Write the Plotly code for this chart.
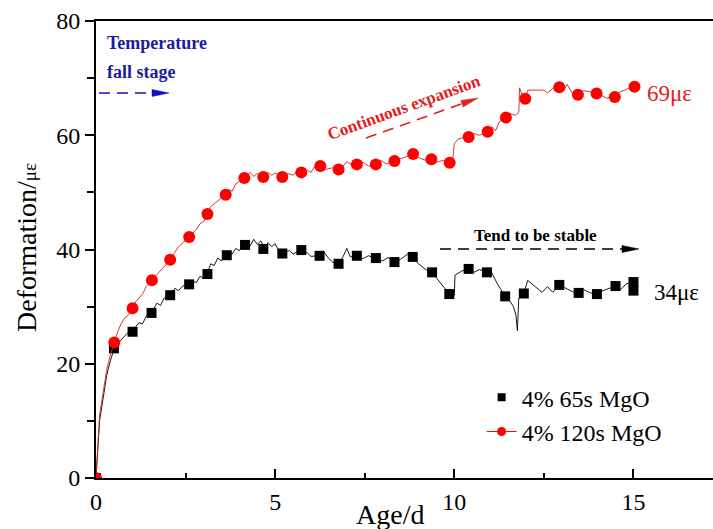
import plotly.graph_objects as go
import math

# ---------------- data ----------------
# 4% 65s MgO : measured curve
b_line_x = [0, 0.05, 0.1, 0.2, 0.3, 0.4, 0.5, 0.6, 0.7, 0.8, 0.9, 1.0, 1.1, 1.2, 1.3, 1.4, 1.5,
            1.6, 1.7, 1.8, 1.9, 2.0, 2.1, 2.2, 2.3, 2.4, 2.5, 2.6, 2.7, 2.8, 2.9, 3.0, 3.1, 3.2,
            3.3, 3.4, 3.5, 3.6, 3.7, 3.8, 3.9, 4.0, 4.1, 4.2, 4.3, 4.4, 4.5, 4.6, 4.7, 4.8, 4.9,
            5.0, 5.1, 5.2, 5.4, 5.5, 5.7, 5.9, 6.0, 6.2, 6.35, 6.5, 6.6, 6.77, 6.9, 7.0, 7.1,
            7.28, 7.45, 7.6, 7.81, 8.0, 8.15, 8.33, 8.5, 8.7, 8.84, 9.0, 9.2, 9.38, 9.5, 9.7,
            9.86, 9.95, 10.0, 10.02, 10.2, 10.4, 10.55, 10.7, 10.91, 11.0, 11.1, 11.2, 11.3,
            11.42, 11.55, 11.65, 11.72, 11.76, 11.8, 11.94, 12.05, 12.45, 12.6, 12.75, 12.93,
            13.1, 13.3, 13.47, 13.6, 13.8, 13.98, 14.15, 14.3, 14.5, 14.65, 14.8, 15.0]
b_line_y = [0, 6, 10, 14, 18, 20.5, 22.5, 23.5, 24.2, 24.8, 25.5, 25.6, 26.5, 27.2, 27.0, 28.3, 28.9,
            29.5, 30.6, 30.2, 31.5, 31.8, 32.2, 33.2, 32.8, 33.5, 33.9, 33.9, 34.5, 34.2, 35.3, 35.0,
            35.7, 37.5, 37.2, 38.5, 38.0, 39.0, 39.5, 39.2, 40.2, 39.8, 40.8, 41.5, 40.6, 41.8, 40.9,
            41.5, 40.1, 41.2, 40.5, 41.0, 39.8, 39.3, 39.8, 39.2, 39.9, 39.4, 38.8, 38.9, 39.6, 38.4,
            37.8, 37.5, 38.8, 40.2, 38.7, 38.9, 38.4, 38.9, 38.5, 38.0, 38.6, 37.8, 38.3, 39.2, 38.7,
            37.5, 36.5, 36.0, 35.0, 33.5, 32.2, 32.8, 32.0, 35.5, 36.2, 36.6, 36.0, 36.5, 36.0, 36.5,
            35.2, 34.0, 33.0, 31.8, 31.0, 30.0, 28.5, 25.8, 31.5, 32.3, 34.6, 32.5, 33.5, 32.5, 33.8,
            33.2, 32.6, 32.4, 33.0, 32.4, 32.2, 32.8, 33.2, 33.6, 33.0, 34.0, 34.3]
# 4% 65s MgO : symbols
b_mark_x = [0, 0.5, 1.02, 1.55, 2.07, 2.6, 3.11, 3.65, 4.16, 4.67, 5.2, 5.73, 6.24, 6.77, 7.28, 7.81,
            8.33, 8.84, 9.38, 9.86, 10.4, 10.91, 11.42, 11.94, 12.93, 13.47, 13.98, 14.5, 15.0, 15.0]
b_mark_y = [0, 22.7, 25.6, 28.9, 32.0, 33.9, 35.7, 39.0, 40.8, 40.1, 39.3, 39.9, 38.9, 37.5, 38.9,
            38.5, 37.8, 38.7, 36.0, 32.2, 36.6, 36.0, 31.8, 32.3, 33.8, 32.4, 32.2, 33.6, 34.3, 32.8]

# 4% 120s MgO : measured curve
r_line_x = [0, 0.05, 0.1, 0.2, 0.3, 0.4, 0.5, 0.6, 0.7, 0.8, 0.9, 1.02, 1.1, 1.2, 1.3, 1.4, 1.56,
            1.7, 1.8, 1.9, 2.07, 2.2, 2.3, 2.4, 2.6, 2.7, 2.8, 2.9, 3.0, 3.11, 3.2, 3.3, 3.45, 3.62,
            3.7, 3.8, 3.9, 4.0, 4.14, 4.3, 4.4, 4.5, 4.67, 4.8, 4.9, 5.0, 5.2, 5.35, 5.5, 5.6, 5.73,
            5.9, 6.0, 6.1, 6.26, 6.4, 6.6, 6.77, 6.9, 7.0, 7.15, 7.28, 7.45, 7.6, 7.81, 7.95, 8.1,
            8.33, 8.5, 8.65, 8.85, 9.0, 9.2, 9.36, 9.5, 9.7, 9.87, 9.95, 10.0, 10.1, 10.25, 10.4,
            10.55, 10.7, 10.93, 11.05, 11.15, 11.25, 11.44, 11.55, 11.7, 11.8, 11.82, 11.9, 11.98,
            12.05, 12.5, 12.6, 12.75, 12.93, 13.05, 13.15, 13.3, 13.45, 13.6, 13.8, 13.97, 14.1,
            14.25, 14.48, 14.6, 14.75, 14.9, 15.03]
r_line_y = [0, 6, 11, 15, 19, 21.5, 23.7, 25.5, 27.0, 28.0, 28.5, 29.7, 30.8, 31.5, 32.2, 33.5, 34.6,
            35.5, 36.2, 37.0, 38.2, 39.5, 40.5, 41.0, 42.2, 42.8, 43.5, 44.5, 44.9, 46.2, 47.5, 48.0,
            48.8, 49.6, 50.5, 50.2, 51.5, 51.9, 52.5, 53.5, 52.8, 53.3, 52.7, 53.5, 53.0, 53.4, 52.7,
            53.3, 53.0, 53.7, 53.5, 53.9, 53.5, 54.5, 54.6, 54.0, 54.3, 54.0, 54.6, 55.4, 54.8, 54.9,
            55.3, 54.6, 54.9, 55.6, 55.0, 55.5, 55.9, 56.3, 56.7, 56.1, 55.6, 55.8, 55.3, 55.6, 55.2,
            55.5, 58.5, 59.3, 59.6, 59.7, 60.3, 60.0, 60.6, 61.5, 60.8, 62.3, 63.1, 63.8, 63.5, 64.0,
            68.3, 67.0, 66.4, 67.9, 67.9, 67.4, 68.2, 68.4, 67.8, 68.9, 67.3, 67.1, 67.8, 67.6, 67.3,
            67.0, 66.5, 66.7, 67.5, 67.9, 68.3, 68.5]
# 4% 120s MgO : symbols
r_mark_x = [0, 0.51, 1.02, 1.56, 2.07, 2.6, 3.11, 3.62, 4.14, 4.67, 5.2, 5.73, 6.26, 6.77, 7.28, 7.81,
            8.33, 8.85, 9.36, 9.87, 10.4, 10.93, 11.44, 11.98, 12.93, 13.45, 13.97, 14.48, 15.03]
r_mark_y = [0, 23.7, 29.7, 34.6, 38.2, 42.2, 46.2, 49.6, 52.5, 52.7, 52.7, 53.5, 54.6, 54.0, 54.9,
            54.9, 55.5, 56.7, 55.8, 55.2, 59.7, 60.6, 63.1, 66.4, 68.4, 67.1, 67.3, 66.7, 68.5]

series_names = ["4% 65s MgO", "4% 120s MgO"]
x_ticks = [0, 5, 10, 15]
y_ticks = [0, 20, 40, 60, 80]

# ---------------- figure ----------------
W, H = 713, 529
ML, MR, MT, MB = 96, 0, 21, 51
X_MAX = 17.22
Y_MAX = 80
FONT = "Liberation Serif"


def px2x(px):
    return (px - ML) / (W - ML - MR) * X_MAX


def py2y(py):
    return (H - MB - py) / (H - MB - MT) * Y_MAX


fig = go.Figure()
fig.add_trace(go.Scatter(x=b_line_x, y=b_line_y, mode="lines",
                         line=dict(color="black", width=0.9), showlegend=False, hoverinfo="skip"))
fig.add_trace(go.Scatter(x=b_mark_x, y=b_mark_y, mode="markers",
                         marker=dict(symbol="square", size=10, color="black"), showlegend=False))
fig.add_trace(go.Scatter(x=r_line_x, y=r_line_y, mode="lines",
                         line=dict(color="#d42020", width=0.9), showlegend=False, hoverinfo="skip"))
fig.add_trace(go.Scatter(x=r_mark_x, y=r_mark_y, mode="markers",
                         marker=dict(symbol="circle", size=12, color="#ff0000"), showlegend=False))
# legend entries
fig.add_trace(go.Scatter(x=[None], y=[None], mode="markers", name=series_names[0],
                         marker=dict(symbol="square", size=8, color="black")))
fig.add_trace(go.Scatter(x=[None], y=[None], mode="lines+markers", name=series_names[1],
                         line=dict(color="#ff0000", width=1),
                         marker=dict(symbol="circle", size=9, color="#ff0000")))

shapes = []
annotations = []


def dashed_arrow(x0p, y0p, x1p, y1p, color, head_len=17, head_half=3.5):
    dx, dy = x1p - x0p, y1p - y0p
    L = math.hypot(dx, dy)
    ux, uy = dx / L, dy / L
    bx, by = x1p - ux * head_len, y1p - uy * head_len
    shapes.append(dict(type="line", xref="x", yref="y",
                       x0=px2x(x0p), y0=py2y(y0p), x1=px2x(bx), y1=py2y(by),
                       line=dict(color=color, width=1.6, dash="11px,7px")))
    nx, ny = -uy, ux
    p2 = (bx + nx * head_half, by + ny * head_half)
    p3 = (bx - nx * head_half, by - ny * head_half)
    path = "M {},{} L {},{} L {},{} Z".format(px2x(x1p), py2y(y1p), px2x(p2[0]), py2y(p2[1]),
                                               px2x(p3[0]), py2y(p3[1]))
    shapes.append(dict(type="path", xref="x", yref="y", path=path,
                       fillcolor=color, line=dict(color=color, width=0.5)))


dashed_arrow(99, 93, 169, 93, "#1010c8")
dashed_arrow(366, 138, 478, 98, "#e02020")
dashed_arrow(440, 249, 639, 249, "black")

annotations.append(dict(x=px2x(105), y=py2y(43), xref="x", yref="y", text="<b>Temperature</b>",
                        showarrow=False, xanchor="left", yanchor="middle",
                        font=dict(family=FONT, size=18, color="#1c1c9a")))
annotations.append(dict(x=px2x(105), y=py2y(72), xref="x", yref="y", text="<b>fall stage</b>",
                        showarrow=False, xanchor="left", yanchor="middle",
                        font=dict(family=FONT, size=18, color="#1c1c9a")))
annotations.append(dict(x=px2x(404), y=py2y(107), xref="x", yref="y",
                        text="<b>Continuous expansion</b>", textangle=-20,
                        showarrow=False, xanchor="center", yanchor="middle",
                        font=dict(family=FONT, size=17, color="#e02020")))
annotations.append(dict(x=px2x(535), y=py2y(235), xref="x", yref="y", text="<b>Tend to be stable</b>",
                        showarrow=False, xanchor="center", yanchor="middle",
                        font=dict(family=FONT, size=17, color="black")))
annotations.append(dict(x=px2x(645), y=py2y(93), xref="x", yref="y", text="69με",
                        showarrow=False, xanchor="left", yanchor="middle",
                        font=dict(family=FONT, size=23, color="#e02020")))
annotations.append(dict(x=px2x(652), y=py2y(292), xref="x", yref="y", text="34με",
                        showarrow=False, xanchor="left", yanchor="middle",
                        font=dict(family=FONT, size=23, color="black")))
# axis titles
annotations.append(dict(x=(390 - ML) / (W - ML - MR), y=(H - MB - 514) / (H - MB - MT),
                        xref="paper", yref="paper", text="Age/d", showarrow=False,
                        xanchor="center", yanchor="middle",
                        font=dict(family=FONT, size=28, color="black")))
annotations.append(dict(x=(26 - ML) / (W - ML - MR), y=(H - MB - 248) / (H - MB - MT),
                        xref="paper", yref="paper",
                        text="Deformation/<span style='font-size:19px'>με</span>",
                        textangle=-90, showarrow=False, xanchor="center", yanchor="middle",
                        font=dict(family=FONT, size=28, color="black")))

fig.update_layout(
    width=W, height=H,
    margin=dict(l=ML, r=MR, t=MT, b=MB, pad=0),
    paper_bgcolor="white", plot_bgcolor="white",
    font=dict(family=FONT, size=22, color="black"),
    shapes=shapes, annotations=annotations,
    legend=dict(x=0.625, y=0.225, xanchor="left", yanchor="top",
                bgcolor="rgba(0,0,0,0)", font=dict(family=FONT, size=24, color="black"),
                tracegroupgap=0, itemwidth=30),
    showlegend=True,
)
fig.update_xaxes(range=[0, X_MAX], tickvals=x_ticks, ticks="inside", ticklen=9, tickwidth=1.5,
                 tickcolor="black", showline=True, linecolor="black", linewidth=2, mirror=True,
                 showgrid=False, zeroline=False, ticklabelstandoff=1,
                 tickfont=dict(family=FONT, size=24),
                 minor=dict(dtick=2.5, tick0=0, ticks="inside", ticklen=5, tickwidth=1.5,
                            tickcolor="black", showgrid=False))
fig.update_yaxes(range=[0, Y_MAX], tickvals=y_ticks, ticks="outside", ticklen=9, tickwidth=1.5,
                 tickcolor="black", showline=True, linecolor="black", linewidth=2,
                 showgrid=False, zeroline=False,
                 tickfont=dict(family=FONT, size=24),
                 minor=dict(dtick=10, tick0=0, ticks="outside", ticklen=7, tickwidth=1.5,
                            tickcolor="black", showgrid=False))

fig.write_html("out.html", config={"displayModeBar": False},
               post_script="document.body.style.margin='0';document.body.style.overflow='hidden';")
